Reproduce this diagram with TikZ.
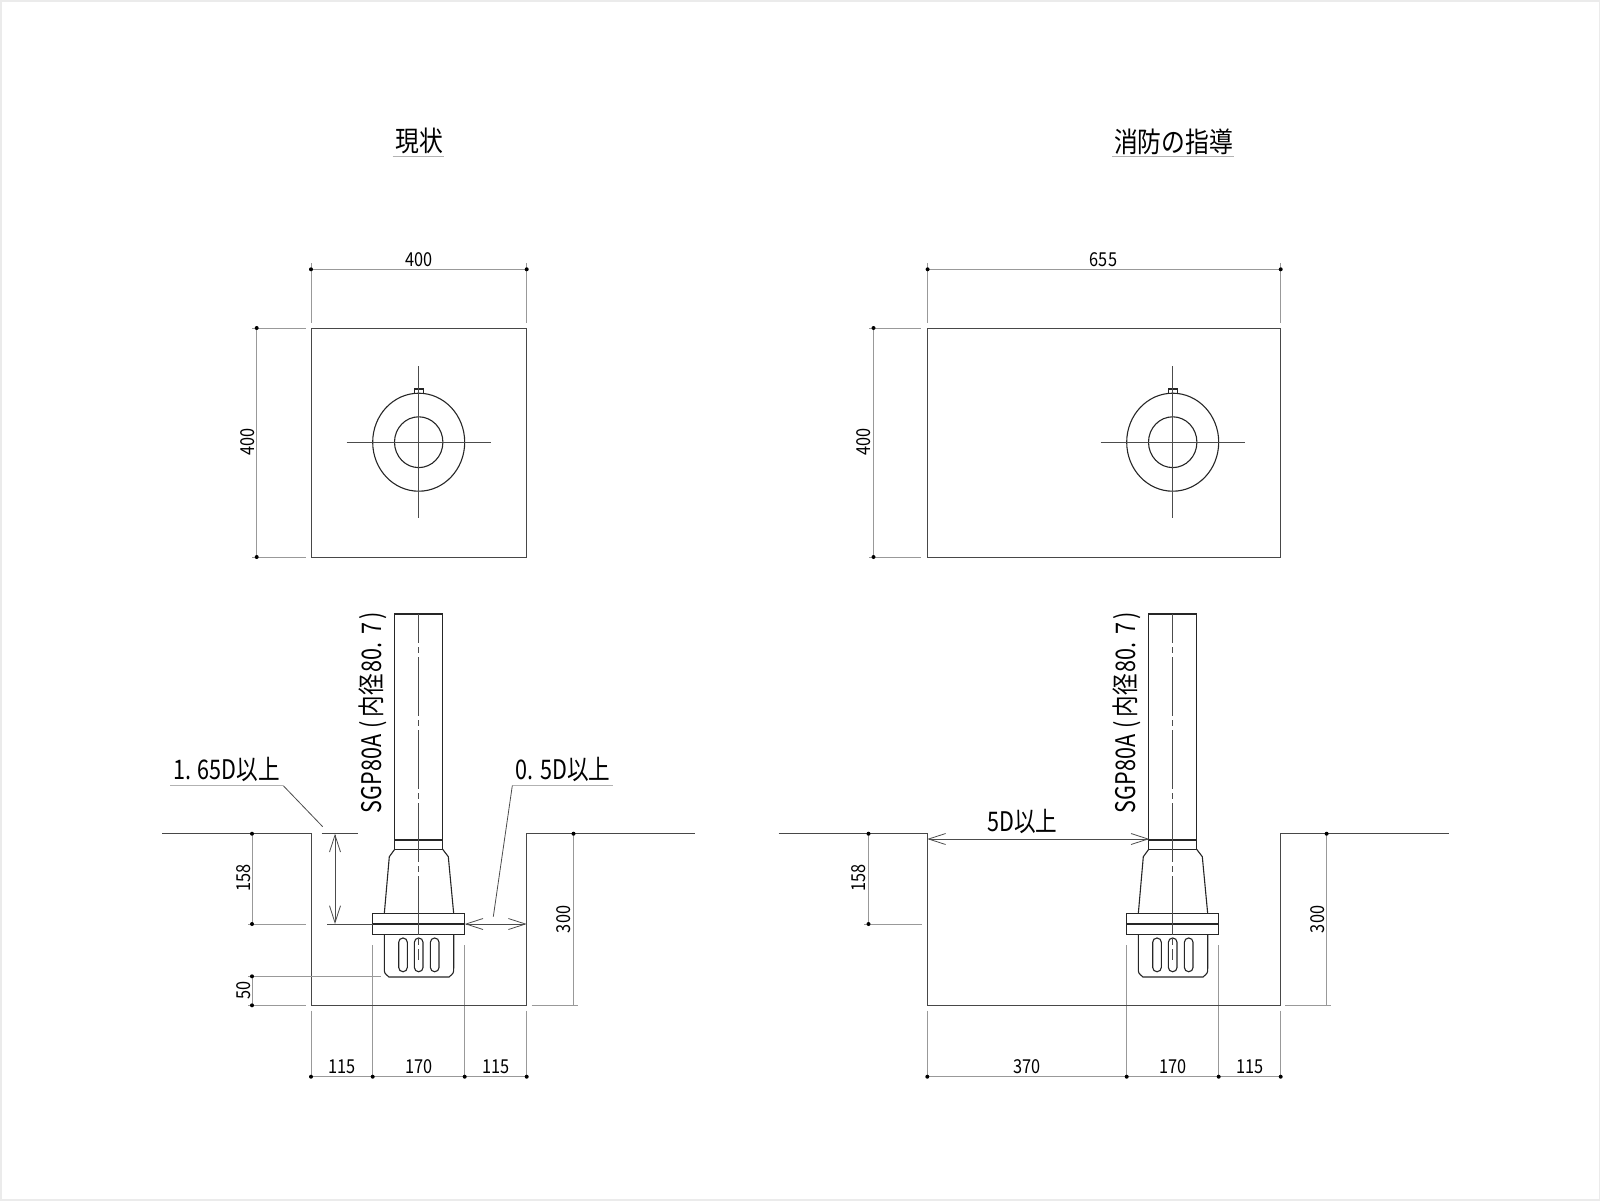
\documentclass[tikz,border=0pt]{standalone}
\usepackage{fontspec}
\setmainfont[FakeStretch=0.85]{Noto Sans CJK JP}
\newfontfamily\tallfont[FakeStretch=0.8]{Noto Sans CJK JP}
\usetikzlibrary{arrows.meta}

\begin{document}
\begin{tikzpicture}[x=0.5pt,y=-0.5pt]
        \tikzstyle{outline} = [draw=black!85, line width=0.55pt]
        \tikzstyle{wallline} = [draw=black!72, line width=0.5pt]
        \tikzstyle{thinline} = [draw=black!70, line width=0.4pt]
        \tikzstyle{dimline} = [draw=black!40, line width=0.35pt]
        \tikzstyle{underline} = [draw=black!30, line width=0.5pt]
        \tikzstyle{arrowline} = [draw=black!70, line width=0.4pt, {Straight Barb[length=8.5pt,width=5.5pt]}-{Straight Barb[length=8.5pt,width=5.5pt]}]
        \tikzstyle{centerline} = [draw=black!70, line width=0.4pt, dash pattern=on 29.5pt off 2pt on 3pt off 2pt, dash phase=15pt]
        \tikzstyle{smalltext} = [inner sep=0pt, font=\fontsize{9.6}{10}\selectfont]
        \tikzstyle{bigtext} = [inner sep=0pt, font=\tallfont\fontsize{13.5}{14}\selectfont]
        \tikzstyle{titletext} = [inner sep=0pt, font=\fontsize{14}{15}\selectfont]

        \useasboundingbox (0,0) rectangle (1600,1200);

        % Page edge
        \draw [draw=black!8, line width=1.5pt] (0,0) rectangle (1600,1200);

        % Titles
        \node (titleleft) [titletext] at (419,141) {現状};
        \node (titleright) [titletext] at (1173.5,141.5) {消防の指導};
        \draw [underline] (392.7,156.5) -- (444,156.5);
        \draw [underline] (1112,156.5) -- (1234,156.5);

        % Pump, plan and section, same in both views
        \foreach \ox in {0,754} {
            \begin{scope}[shift={(\ox,0)}]
                % Plan
                \draw [outline] (418.7,442.2) ellipse (46 and 49);
                \draw [outline] (418.7,442.2) ellipse (24.2 and 25.4);
                \draw [outline] (414.3,389) rectangle (423.3,393.6);
                \draw [thinline] (346.7,442.3) -- (490.7,442.3);
                \draw [thinline] (418.7,366) -- (418.7,518.3);
                % Section
                \draw [outline] (394.7,840) -- (394.7,614) -- (442.7,614) -- (442.7,840);
                \draw [outline] (394.7,840) rectangle (442.7,849.3);
                \draw [outline] (394.7,849.3) -- (389.3,856.7) -- (384.3,913.7);
                \draw [outline] (442.7,849.3) -- (448.3,856.7) -- (453.7,913.7);
                \draw [outline] (372.7,913.7) rectangle (464.7,934.7);
                \draw [outline] (372.7,924) -- (464.7,924);
                \draw [outline] (384.3,934.7) -- (384.3,968) .. controls (384.3,973) .. (389,977) -- (449,977) .. controls (453.7,973) .. (453.7,968) -- (453.7,934.7);
                \foreach \sx in {403,418.7,434.7}
                    \draw [outline, rounded corners=2.1pt] (\sx-4.3,938) rectangle (\sx+4.3,971.7);
                \draw [centerline] (418.7,614) -- (418.7,960);
                % Pipe label
                \node (pipelabel\ox) [bigtext, rotate=90] at (373,712.5) {SGP80A\kern3pt(\kern2pt 内径\kern1pt 80.\kern4pt 7\kern1.5pt)};
                % Extension lines of 170
                \draw [dimline] (372.7,945) -- (372.7,1076.7);
                \draw [dimline] (464.7,945) -- (464.7,1076.7);
                \node (dimb\ox) [smalltext] at (419,1067) {170};
            \end{scope}
        }

        % Left plan
        \draw [wallline] (311,328) rectangle (526.7,557);
        \draw [dimline] (311,269.3) -- (526.7,269.3);
        \draw [dimline] (311,263) -- (311,322.7);
        \draw [dimline] (526.7,263) -- (526.7,322.7);
        \draw [dimline] (256.7,328) -- (256.7,557);
        \draw [dimline] (252,328) -- (306,328);
        \draw [dimline] (252,557) -- (306,557);
        \node (planwidthl) [smalltext] at (419,260) {400};
        \node (planheightl) [smalltext, rotate=90] at (247.5,442) {400};

        % Right plan
        \draw [wallline] (927.6,328) rectangle (1280.7,557);
        \draw [dimline] (927.6,269.3) -- (1280.7,269.3);
        \draw [dimline] (927.6,263) -- (927.6,322.7);
        \draw [dimline] (1280.7,263) -- (1280.7,322.7);
        \draw [dimline] (873.5,328) -- (873.5,557);
        \draw [dimline] (869,328) -- (921,328);
        \draw [dimline] (869,557) -- (921,557);
        \node (planwidthr) [smalltext] at (1103.5,260) {655};
        \node (planheightr) [smalltext, rotate=90] at (864,442) {400};

        % Left section
        \draw [wallline] (162.3,833.7) -- (311,833.7) -- (311,1005.3) -- (526.7,1005.3) -- (526.7,833.7) -- (695,833.7);
        \draw [wallline] (321.7,833.7) -- (358.3,833.7);
        \draw [thinline] (327.3,924) -- (372.7,924);
        \draw [arrowline] (335,833.7) -- (335,924);
        \draw [arrowline] (464.7,924) -- (526.7,924);
        \draw [underline] (170,785.7) -- (283.3,785.7);
        \draw [thinline] (283.3,785.7) -- (322.7,826.7);
        \draw [underline] (512.3,785.7) -- (613.3,785.7);
        \draw [thinline] (512.3,785.7) -- (493.3,916.7);
        \node (minbottom) [bigtext] at (226.7,769) {1.\kern3pt 65D以上};
        \node (minside) [bigtext] at (562.8,769) {0.\kern3.5pt 5D以上};
        % Left section dimensions
        \draw [dimline] (252,833.7) -- (252,924);
        \draw [dimline] (252,976.3) -- (252,1005.3);
        \draw [dimline] (248,924) -- (306,924);
        \draw [dimline] (248,976.3) -- (381,976.3);
        \draw [dimline] (248,1005.3) -- (306,1005.3);
        \draw [dimline] (573.5,833.7) -- (573.5,1005.3);
        \draw [dimline] (531.7,1005.3) -- (578,1005.3);
        \draw [dimline] (311,1010.7) -- (311,1076.7);
        \draw [dimline] (526.7,1010.7) -- (526.7,1076.7);
        \draw [dimline] (311,1076.7) -- (526.7,1076.7);
        \node (depthl) [smalltext, rotate=90] at (243.3,878) {158};
        \node (gapl) [smalltext, rotate=90] at (243.3,990) {50};
        \node (totall) [smalltext, rotate=90] at (564,919.4) {300};
        \node (dima) [smalltext] at (342.3,1067) {115};
        \node (dimc) [smalltext] at (495.7,1067) {115};

        % Right section
        \draw [wallline] (778.6,833.7) -- (927.3,833.7) -- (927.3,1005.3) -- (1280.7,1005.3) -- (1280.7,833.7) -- (1449,833.7);
        \draw [arrowline] (927.3,839) -- (1149.3,839);
        \node (minfront) [bigtext] at (1022.5,821) {5D以上};
        % Right section dimensions
        \draw [dimline] (868.5,833.7) -- (868.5,924);
        \draw [dimline] (864,924) -- (922.3,924);
        \draw [dimline] (1326.6,833.7) -- (1326.6,1005.3);
        \draw [dimline] (1285,1005.3) -- (1331,1005.3);
        \draw [dimline] (927.3,1010.7) -- (927.3,1076.7);
        \draw [dimline] (1280.7,1010.7) -- (1280.7,1076.7);
        \draw [dimline] (927.3,1076.7) -- (1280.7,1076.7);
        \node (depthr) [smalltext, rotate=90] at (858.7,878) {158};
        \node (totalr) [smalltext, rotate=90] at (1317.4,919.4) {300};
        \node (dimd) [smalltext] at (1027.3,1067) {370};
        \node (dime) [smalltext] at (1250,1067) {115};

        % Dimension dots
        \foreach \px/\py in {311/269.3,526.7/269.3,256.7/328,256.7/557,927.6/269.3,1280.7/269.3,873.5/328,873.5/557,
                             252/833.7,252/924,252/976.3,252/1005.3,573.5/833.7,311/1076.7,372.7/1076.7,464.7/1076.7,526.7/1076.7,
                             868.5/833.7,868.5/924,1326.6/833.7,927.3/1076.7,1126.7/1076.7,1218.7/1076.7,1280.7/1076.7}
            \fill [black] (\px,\py) circle (2);

    \end{tikzpicture}
\end{document}
